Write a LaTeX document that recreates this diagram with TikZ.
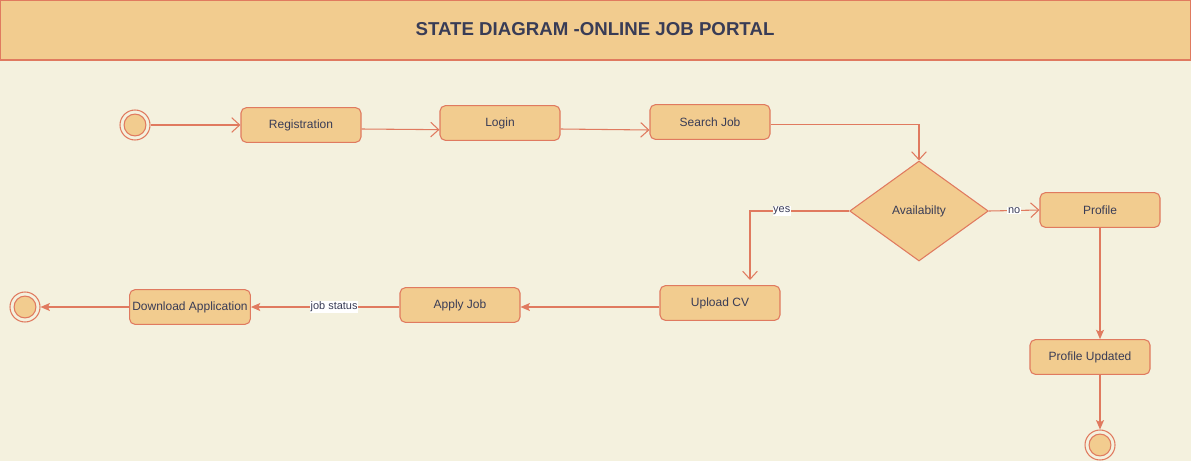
\documentclass[tikz,border=0pt]{standalone}
\usepackage{fontspec}
\setmainfont{Liberation Sans}
\usepackage{tikz}
\usetikzlibrary{positioning,arrows.meta,shapes.geometric}

\definecolor{bgcream}{HTML}{F4F1DE}
\definecolor{boxfill}{HTML}{F2CC8F}
\definecolor{lineorange}{HTML}{E07A5F}
\definecolor{txtnavy}{HTML}{393C56}

\tikzset{
  state/.style={rectangle, rounded corners=4pt, draw=lineorange, fill=boxfill,
    line width=0.8pt, minimum width=90pt, minimum height=26pt, inner xsep=2pt,
    font=\fontsize{9}{10}\selectfont, text=txtnavy},
  decision/.style={diamond, draw=lineorange, fill=boxfill, line width=0.8pt,
    minimum width=104pt, minimum height=75pt, inner sep=0pt,
    font=\fontsize{9}{10}\selectfont, text=txtnavy},
  endpoint/.style={circle, draw=lineorange, fill=bgcream, line width=0.8pt,
    minimum size=22.5pt, inner sep=0pt,
    path picture={\fill[boxfill, draw=lineorange, line width=0.8pt]
      (path picture bounding box.center) circle (8.2pt);}},
  flow/.style={draw=lineorange, line width=0.8pt,
    -{Straight Barb[length=6pt,width=11pt,line width=0.8pt]}},
  fflow/.style={draw=lineorange, line width=0.8pt,
    -{Stealth[length=7pt,width=6pt,inset=1.5pt]}},
  lbl/.style={fill=white, inner sep=0.5pt, font=\fontsize{8.2}{9}\selectfont, text=txtnavy}
}

\begin{document}
\begin{tikzpicture}[x=0.75pt,y=-0.75pt]

% Background and frame
\fill[bgcream] (0,0) rectangle (1191,461);
\useasboundingbox (0,0) rectangle (1191,461);

% Title bar
\filldraw[fill=boxfill, draw=lineorange, line width=0.8pt] (0.5,0.5) rectangle (1190.5,60);
\node[font=\fontsize{14}{16}\selectfont\bfseries, text=txtnavy] (title) at (595,29) {STATE DIAGRAM -ONLINE JOB PORTAL};

% Top row
\node[endpoint] (start) at (135,125) {};
\node[state] (reg) at (301,125) {Registration};
\node[state] (login) at (500,123) {Login};
\node[state] (search) at (710,122) {Search Job};

% Decision and right column
\node[decision] (avail) at (919,211) {Availabilty};
\node[state] (profile) at (1100,210) {Profile};
\node[state] (updated) at (1090,357) {Profile Updated};
\node[endpoint] (endb) at (1100,445) {};

% Bottom row
\node[state] (upload) at (720,303) {Upload CV};
\node[state] (apply) at (460,305) {Apply Job};
\node[state] (download) at (190,307) {Download Application};
\node[endpoint] (endl) at (25,307) {};

\coordinate (yesend) at (750,280);

% Transitions
\draw[flow] (start) -- (reg.west);
\draw[flow] ([yshift=-3pt]reg.east) -- ([yshift=-5pt]login.west);
\draw[flow] ([yshift=-4.5pt]login.east) -- ([yshift=-6pt]search.west);
\draw[flow] ([yshift=-2pt]search.east) -| (avail.north);
\draw[flow] (avail.west) -| node[lbl, pos=0.34] {yes} (yesend);
\draw[flow] (avail.east) -- node[lbl, pos=0.5] {no} (profile.west);
\draw[fflow] (profile.south) -- (profile.south |- updated.north);
\draw[fflow] (updated.south -| endb) -- (endb.north);
\draw[fflow] ([yshift=-3pt]upload.west) -- ([yshift=-1.5pt]apply.east);
\draw[fflow] ([yshift=-1.5pt]apply.west) -- node[lbl, pos=0.44] {job status} (download.east);
\draw[fflow] (download.west) -- (endl.east);

\end{tikzpicture}
\end{document}
